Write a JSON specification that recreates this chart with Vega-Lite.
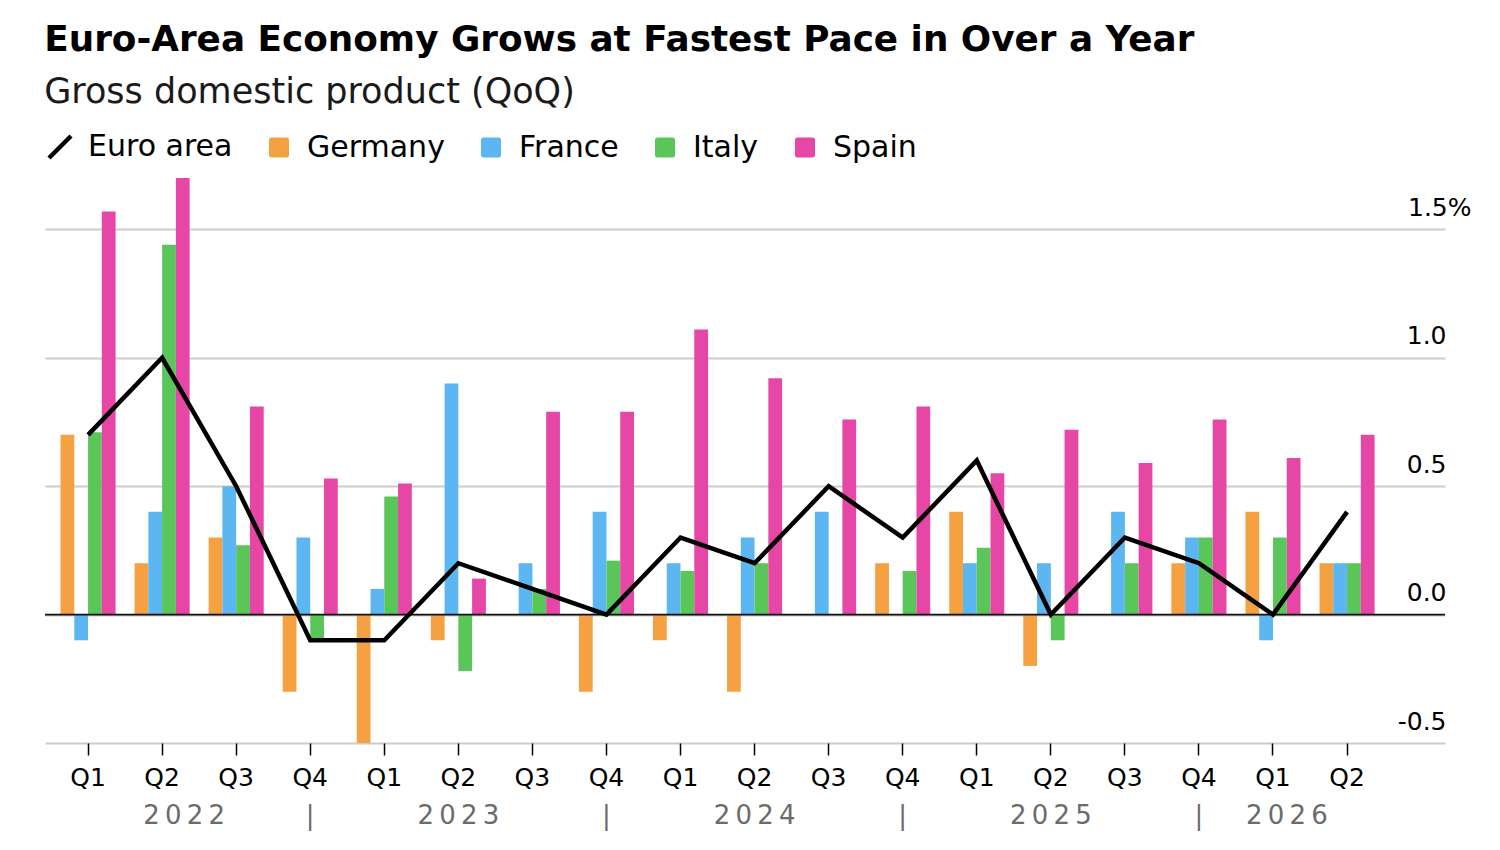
{
  "$schema": "https://vega.github.io/schema/vega-lite/v6.json",
  "width": 1400,
  "height": 565,
  "autosize": {"type": "none"},
  "padding": {"left": 45, "top": 178, "right": 55, "bottom": 107},
  "background": "white",
  "title": {
    "text": "Euro-Area Economy Grows at Fastest Pace in Over a Year",
    "subtitle": "Gross domestic product (QoQ)",
    "anchor": "start",
    "font": "DejaVu Sans",
    "fontSize": 35.8,
    "fontWeight": "bold",
    "color": "#000000",
    "subtitleFont": "DejaVu Sans",
    "subtitleFontSize": 35,
    "subtitleColor": "#1a1a1a",
    "subtitlePadding": 16,
    "offset": 21
  },
  "config": {
    "view": {"stroke": null},
    "font": "DejaVu Sans"
  },
  "datasets": {
    "bars": [
      {"q": "2022Q1", "country": "Germany", "value": 0.7},
      {"q": "2022Q1", "country": "France", "value": -0.1},
      {"q": "2022Q1", "country": "Italy", "value": 0.71},
      {"q": "2022Q1", "country": "Spain", "value": 1.57},
      {"q": "2022Q2", "country": "Germany", "value": 0.2},
      {"q": "2022Q2", "country": "France", "value": 0.4},
      {"q": "2022Q2", "country": "Italy", "value": 1.44},
      {"q": "2022Q2", "country": "Spain", "value": 1.7},
      {"q": "2022Q3", "country": "Germany", "value": 0.3},
      {"q": "2022Q3", "country": "France", "value": 0.5},
      {"q": "2022Q3", "country": "Italy", "value": 0.27},
      {"q": "2022Q3", "country": "Spain", "value": 0.81},
      {"q": "2022Q4", "country": "Germany", "value": -0.3},
      {"q": "2022Q4", "country": "France", "value": 0.3},
      {"q": "2022Q4", "country": "Italy", "value": -0.1},
      {"q": "2022Q4", "country": "Spain", "value": 0.53},
      {"q": "2023Q1", "country": "Germany", "value": -0.5},
      {"q": "2023Q1", "country": "France", "value": 0.1},
      {"q": "2023Q1", "country": "Italy", "value": 0.46},
      {"q": "2023Q1", "country": "Spain", "value": 0.51},
      {"q": "2023Q2", "country": "Germany", "value": -0.1},
      {"q": "2023Q2", "country": "France", "value": 0.9},
      {"q": "2023Q2", "country": "Italy", "value": -0.22},
      {"q": "2023Q2", "country": "Spain", "value": 0.14},
      {"q": "2023Q3", "country": "Germany", "value": 0.0},
      {"q": "2023Q3", "country": "France", "value": 0.2},
      {"q": "2023Q3", "country": "Italy", "value": 0.1},
      {"q": "2023Q3", "country": "Spain", "value": 0.79},
      {"q": "2023Q4", "country": "Germany", "value": -0.3},
      {"q": "2023Q4", "country": "France", "value": 0.4},
      {"q": "2023Q4", "country": "Italy", "value": 0.21},
      {"q": "2023Q4", "country": "Spain", "value": 0.79},
      {"q": "2024Q1", "country": "Germany", "value": -0.1},
      {"q": "2024Q1", "country": "France", "value": 0.2},
      {"q": "2024Q1", "country": "Italy", "value": 0.17},
      {"q": "2024Q1", "country": "Spain", "value": 1.11},
      {"q": "2024Q2", "country": "Germany", "value": -0.3},
      {"q": "2024Q2", "country": "France", "value": 0.3},
      {"q": "2024Q2", "country": "Italy", "value": 0.2},
      {"q": "2024Q2", "country": "Spain", "value": 0.92},
      {"q": "2024Q3", "country": "Germany", "value": 0.0},
      {"q": "2024Q3", "country": "France", "value": 0.4},
      {"q": "2024Q3", "country": "Italy", "value": 0.0},
      {"q": "2024Q3", "country": "Spain", "value": 0.76},
      {"q": "2024Q4", "country": "Germany", "value": 0.2},
      {"q": "2024Q4", "country": "France", "value": 0.0},
      {"q": "2024Q4", "country": "Italy", "value": 0.17},
      {"q": "2024Q4", "country": "Spain", "value": 0.81},
      {"q": "2025Q1", "country": "Germany", "value": 0.4},
      {"q": "2025Q1", "country": "France", "value": 0.2},
      {"q": "2025Q1", "country": "Italy", "value": 0.26},
      {"q": "2025Q1", "country": "Spain", "value": 0.55},
      {"q": "2025Q2", "country": "Germany", "value": -0.2},
      {"q": "2025Q2", "country": "France", "value": 0.2},
      {"q": "2025Q2", "country": "Italy", "value": -0.1},
      {"q": "2025Q2", "country": "Spain", "value": 0.72},
      {"q": "2025Q3", "country": "Germany", "value": 0.0},
      {"q": "2025Q3", "country": "France", "value": 0.4},
      {"q": "2025Q3", "country": "Italy", "value": 0.2},
      {"q": "2025Q3", "country": "Spain", "value": 0.59},
      {"q": "2025Q4", "country": "Germany", "value": 0.2},
      {"q": "2025Q4", "country": "France", "value": 0.3},
      {"q": "2025Q4", "country": "Italy", "value": 0.3},
      {"q": "2025Q4", "country": "Spain", "value": 0.76},
      {"q": "2026Q1", "country": "Germany", "value": 0.4},
      {"q": "2026Q1", "country": "France", "value": -0.1},
      {"q": "2026Q1", "country": "Italy", "value": 0.3},
      {"q": "2026Q1", "country": "Spain", "value": 0.61},
      {"q": "2026Q2", "country": "Germany", "value": 0.2},
      {"q": "2026Q2", "country": "France", "value": 0.2},
      {"q": "2026Q2", "country": "Italy", "value": 0.2},
      {"q": "2026Q2", "country": "Spain", "value": 0.7}
    ],
    "euro": [
      {"q": "2022Q1", "value": 0.7},
      {"q": "2022Q2", "value": 1.0},
      {"q": "2022Q3", "value": 0.5},
      {"q": "2022Q4", "value": -0.1},
      {"q": "2023Q1", "value": -0.1},
      {"q": "2023Q2", "value": 0.2},
      {"q": "2023Q3", "value": 0.1},
      {"q": "2023Q4", "value": 0.0},
      {"q": "2024Q1", "value": 0.3},
      {"q": "2024Q2", "value": 0.2},
      {"q": "2024Q3", "value": 0.5},
      {"q": "2024Q4", "value": 0.3},
      {"q": "2025Q1", "value": 0.6},
      {"q": "2025Q2", "value": 0.0},
      {"q": "2025Q3", "value": 0.3},
      {"q": "2025Q4", "value": 0.2},
      {"q": "2026Q1", "value": 0.0},
      {"q": "2026Q2", "value": 0.4}
    ],
    "zero": [{"value": 0}]
  },
  "resolve": {"axis": {"x": "independent"}},
  "layer": [
    {
      "data": {"name": "bars"},
      "mark": {"type": "bar"},
      "encoding": {
        "x": {
          "field": "q",
          "type": "ordinal",
          "sort": null,
          "scale": {"paddingInner": 0, "paddingOuter": 0.452, "align": 0.09},
          "axis": {
            "orient": "bottom",
            "title": null,
            "labelExpr": "substring(datum.value, 4)",
            "labelAngle": 0,
            "domain": false,
            "grid": false,
            "ticks": true,
            "tickColor": "#000000",
            "tickSize": 12,
            "tickWidth": 1.5,
            "labelFont": "DejaVu Sans",
            "labelFontSize": 25,
            "labelColor": "#000000",
            "labelPadding": 10,
            "labelOverlap": false
          }
        },
        "xOffset": {
          "field": "country",
          "type": "nominal",
          "sort": ["Germany", "France", "Italy", "Spain"],
          "scale": {"paddingInner": 0, "paddingOuter": 0.69}
        },
        "y": {
          "field": "value",
          "type": "quantitative",
          "scale": {"domain": [-0.5, 1.7], "nice": false, "zero": false},
          "axis": {
            "orient": "right",
            "title": null,
            "values": [-0.5, 0, 0.5, 1, 1.5],
            "labelExpr": "datum.value == 1.5 ? '1.5%' : replace(format(datum.value, '.1f'), '−', '-')",
            "domain": false,
            "ticks": false,
            "grid": true,
            "gridColor": "#cccccc",
            "gridWidth": 1.8,
            "labelAlign": "right",
            "labelBaseline": "alphabetic",
            "labelOffset": -14,
            "labelPadding": {"condition": {"test": "datum.value == 1.5", "value": 26}, "value": 1},
            "labelFont": "DejaVu Sans",
            "labelFontSize": 25,
            "labelColor": "#000000"
          }
        },
        "color": {
          "field": "country",
          "type": "nominal",
          "scale": {
            "domain": ["Euro area", "Germany", "France", "Italy", "Spain"],
            "range": ["#000000", "#F5A142", "#5BB6F1", "#5AC65A", "#E646A5"]
          },
          "legend": {
            "orient": "top",
            "direction": "horizontal",
            "title": null,
            "offset": 11,
            "symbolSize": 400,
            "symbolType": "square",
            "symbolStrokeWidth": 4.5,
            "labelFont": "DejaVu Sans",
            "labelFontSize": 30,
            "labelColor": "#000000",
            "labelOffset": 13,
            "columnPadding": 27,
            "encode": {
              "symbols": {
                "update": {
                  "shape": {"signal": "datum.value === 'Euro area' ? 'M-1.1,1.1L1.1,-1.1' : 'M-1,-0.75Q-1,-1,-0.75,-1L0.75,-1Q1,-1,1,-0.75L1,0.75Q1,1,0.75,1L-0.75,1Q-1,1,-1,0.75Z'"},
                  "stroke": {"signal": "datum.value === 'Euro area' ? '#000000' : 'transparent'"},
                  "strokeWidth": {"value": 4.5}
                }
              }
            }
          }
        }
      }
    },
    {
      "data": {"name": "zero"},
      "mark": {"type": "rule", "color": "#111111", "strokeWidth": 1.6},
      "encoding": {
        "y": {"field": "value", "type": "quantitative", "axis": {"title": null}}
      }
    },
    {
      "data": {"name": "euro"},
      "mark": {"type": "line", "color": "#000000", "strokeWidth": 4.5, "strokeJoin": "miter", "strokeCap": "butt"},
      "encoding": {
        "x": {
          "field": "q",
          "type": "ordinal",
          "sort": null,
          "axis": {
            "orient": "bottom",
            "offset": 53,
            "title": null,
            "ticks": false,
            "domain": false,
            "grid": false,
            "labelAngle": 0,
            "labelOverlap": false,
            "labelPadding": 6,
            "labelFont": "DejaVu Sans",
            "labelFontSize": 26,
            "labelColor": "#6b6b6b",
            "labelExpr": "datum.value == '2022Q2' ? '2\u20090\u20092\u20092' : datum.value == '2023Q2' ? '2\u20090\u20092\u20093' : datum.value == '2024Q2' ? '2\u20090\u20092\u20094' : datum.value == '2025Q2' ? '2\u20090\u20092\u20095' : datum.value == '2026Q1' ? '2\u20090\u20092\u20096' : substring(datum.value, 4) == 'Q4' ? '|' : ''",
            "labelOffset": {
              "condition": [
                {"test": "datum.value == '2022Q2'", "value": 22},
                {"test": "datum.value == '2026Q1'", "value": 14}
              ],
              "value": 0
            }
          }
        },
        "y": {"field": "value", "type": "quantitative", "axis": {"title": null}}
      }
    }
  ]
}
